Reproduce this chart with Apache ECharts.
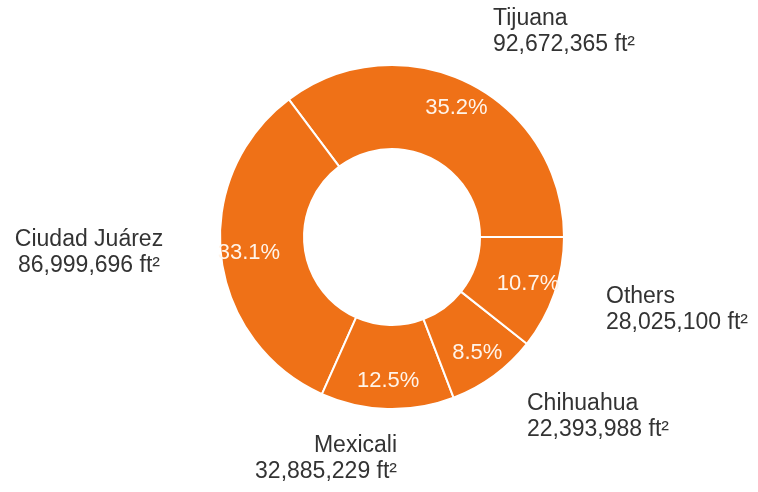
<!DOCTYPE html>
<html>
<head>
<meta charset="utf-8">
<script src="https://cdn.jsdelivr.net/npm/echarts@6/dist/echarts.min.js"></script>
<style>html,body{margin:0;padding:0;background:#fff;}#c{width:758px;height:492px;}</style>
</head>
<body>
<div id="c"></div>
<script>
const categories = ['Tijuana', 'Ciudad Juárez', 'Mexicali', 'Chihuahua', 'Others'];
const values = [92672365, 86999696, 32885229, 22393988, 28025100];
const unit = 'ft²';

// label anchor layout (x, y = vertical middle of the two-line block, align)
const labelLayoutTable = [
  { x: 493, y: 32, align: 'left' },
  { x: 89, y: 253, align: 'center' },
  { x: 397, y: 459, align: 'right' },
  { x: 527, y: 417, align: 'left' },
  { x: 606, y: 310, align: 'left' }
];

const data = categories.map((n, i) => ({ name: n, value: values[i] }));
const ORANGE = '#EF7117';
const FONT = '"Liberation Sans", Arial, sans-serif';

const chart = echarts.init(document.getElementById('c'), null, { renderer: 'canvas' });
chart.setOption({
  animation: false,
  backgroundColor: '#fff',
  series: [
    {
      type: 'pie',
      center: [392, 237],
      radius: [88, 172],
      startAngle: 0,
      clockwise: false,
      avoidLabelOverlap: false,
      data: data,
      itemStyle: { color: ORANGE, borderColor: '#fff', borderWidth: 2 },
      label: {
        show: true,
        position: 'outside',
        color: '#333',
        fontFamily: FONT,
        fontSize: 23,
        lineHeight: 26,
        formatter: p => p.name + '\n' + p.value.toLocaleString('en-US') + ' ' + unit
      },
      labelLine: { show: false },
      labelLayout: function (params) {
        const L = labelLayoutTable[params.dataIndex];
        return { x: L.x, y: L.y, align: L.align, verticalAlign: 'middle' };
      },
      emphasis: { disabled: true }
    },
    {
      type: 'pie',
      center: [392, 237],
      radius: [110, 172],
      startAngle: 0,
      clockwise: false,
      silent: true,
      data: data,
      itemStyle: { color: 'rgba(0,0,0,0)', borderWidth: 0 },
      label: {
        show: true,
        position: 'inside',
        color: '#fff4ea',
        fontFamily: FONT,
        fontSize: 22,
        formatter: p => p.percent.toFixed(1) + '%'
      },
      labelLine: { show: false },
      emphasis: { disabled: true }
    }
  ]
});
</script>
</body>
</html>
